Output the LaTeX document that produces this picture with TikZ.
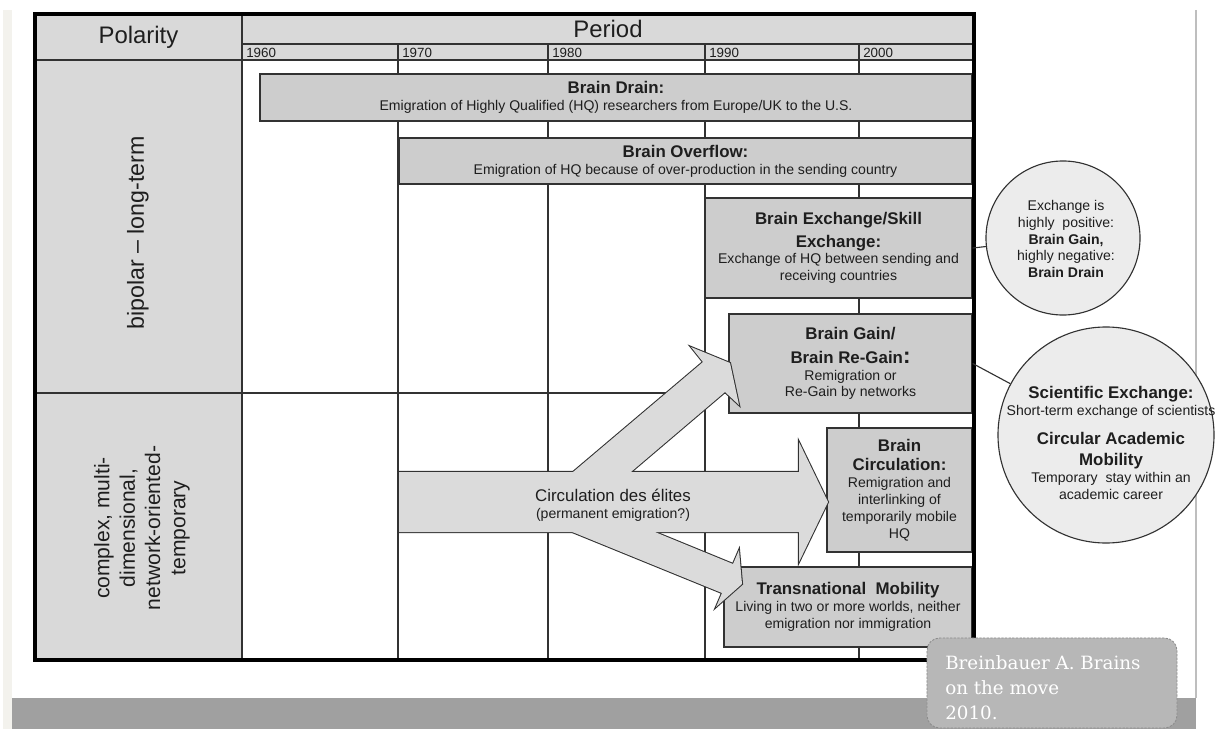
\documentclass[tikz,border=0pt]{standalone}
\usepackage{fontspec}
\setsansfont{Liberation Sans}
\newfontfamily\srcfont{DejaVu Serif}
\definecolor{hdgray}{RGB}{217,217,217}
\definecolor{boxgray}{RGB}{205,205,205}
\definecolor{arrgray}{RGB}{219,219,219}
\definecolor{circgray}{RGB}{236,236,236}
\definecolor{linegray}{RGB}{50,50,50}
\definecolor{inkgray}{RGB}{30,30,30}
\definecolor{notegray}{RGB}{183,183,183}
\definecolor{bandgray}{RGB}{160,160,160}
\definecolor{stripbeige}{RGB}{243,242,237}
\definecolor{pagegray}{RGB}{190,190,190}
\newcommand\ttl{\fontsize{12}{14}\selectfont\bfseries}
\newcommand\txt{\fontsize{10}{12}\selectfont}
\tikzset{
  hqbox/.style    = {draw=linegray, line width=0.9pt, fill=boxgray, align=center,
                     text=inkgray, font=\sffamily\txt, inner sep=2pt},
  note/.style     = {circle, draw=linegray, line width=0.8pt, fill=circgray, inner sep=0pt},
  notetext/.style = {align=center, text=inkgray, font=\sffamily\txt, inner sep=0pt},
  gridline/.style = {draw=linegray, line width=0.9pt},
  tframe/.style   = {draw=black, line width=2.9pt},
  hdr/.style      = {font=\sffamily\fontsize{17}{20}\selectfont, text=inkgray, inner sep=0pt},
  yr/.style       = {font=\sffamily\fontsize{9.5}{11}\selectfont, text=inkgray,
                     anchor=west, inner sep=0pt},
  side/.style     = {rotate=90, align=center, text=inkgray, inner sep=0pt},
  % block arrows: thick outline first, fill on top, so only the outer edge stays
  flowline/.style = {draw=linegray, line width=1.5pt, line join=miter},
  flow/.style     = {fill=arrgray},
  link/.style     = {draw=linegray, line width=0.8pt},
  src/.style      = {rounded corners=9pt, fill=notegray, draw=gray!90,
                     dash pattern=on 1.6pt off 1pt, line width=0.6pt,
                     minimum width=6.25cm, minimum height=2.25cm},
  srctext/.style  = {font=\srcfont\fontsize{13}{18}\selectfont, text=white,
                     align=left, anchor=north west, inner sep=0pt},
}
\begin{document}
\begin{tikzpicture}[x=0.025cm, y=-0.025cm]
  \useasboundingbox (0,0) rectangle (1218,729);

  % page around the table
  \fill[stripbeige] (3,10) rectangle (12,729);
  \fill[bandgray] (12,698) rectangle (1196,729);
  \draw[pagegray, line width=0.8pt] (1196,10) -- (1196,698);

  % table background and grid
  \fill[hdgray] (35,14) rectangle (242,660);
  \fill[hdgray] (242,14) rectangle (974,60);
  \draw[gridline] (242,14) -- (242,660);
  \draw[gridline] (398,44) -- (398,660);
  \draw[gridline] (548,44) -- (548,660);
  \draw[gridline] (705,44) -- (705,660);
  \draw[gridline] (859,44) -- (859,660);
  \draw[gridline] (242,44) -- (974,44);
  \draw[gridline] (35,60) -- (974,60);
  \draw[gridline] (35,393) -- (974,393);

  \node[hdr] (pol) at (138.5,37) {Polarity};
  \node[hdr] (per) at (608,29) {Period};
  \node[yr] (y1960) at (246,53) {1960};
  \node[yr] (y1970) at (402,53) {1970};
  \node[yr] (y1980) at (552,53) {1980};
  \node[yr] (y1990) at (709,53) {1990};
  \node[yr] (y2000) at (863,53) {2000};

  \node[side, font=\sffamily\fontsize{16.5}{20}\selectfont] (bip) at (138,233)
       {bipolar -- long-term};
  \node[side, font=\sffamily\fontsize{15}{18}\selectfont] (cplx) at (142,528)
       {complex, multi-\\dimensional,\\network-oriented-\\temporary};

  % concept boxes
  \node[hqbox, minimum width=17.8cm, minimum height=1.175cm] (drain) at (616,97.5)
       {{\ttl Brain Drain:}\\Emigration of Highly Qualified (HQ) researchers from Europe/UK to the U.S.};
  \node[hqbox, minimum width=14.325cm, minimum height=1.15cm] (overflow) at (685.5,161)
       {{\ttl Brain Overflow:}\\Emigration of HQ because of over-production in the sending country};
  \node[hqbox, minimum width=6.675cm, minimum height=2.5cm] (exch) at (838.5,248)
       {{\ttl Brain Exchange/Skill}\\[4pt]{\ttl Exchange:}\\Exchange of HQ between sending and\\receiving countries};
  \node[hqbox, minimum width=6.075cm, minimum height=2.475cm] (gain) at (850.5,363.5)
       {{\ttl Brain Gain/}\\[5pt]{\ttl Brain Re-Gain{\fontsize{16}{16}\selectfont:}}\\Remigration or\\Re-Gain by networks};
  \node[hqbox, minimum width=3.625cm, minimum height=3.1cm] (circ) at (899.5,490)
       {{\ttl Brain}\\[2pt]{\ttl Circulation:}\\Remigration and\\interlinking of\\temporarily mobile\\HQ};
  \node[hqbox, minimum width=6.2cm, minimum height=2cm] (trans) at (848,607)
       {{\ttl Transnational~~Mobility}\\Living in two or more worlds, neither\\emigration nor immigration};

  % block arrows
  \coordinate (e1) at (399,472);  \coordinate (e2) at (799,472);
  \coordinate (e3) at (799,442);  \coordinate (e4) at (828,502);
  \coordinate (e5) at (799,562);  \coordinate (e6) at (799,532);
  \coordinate (e7) at (399,532);
  \coordinate (u1) at (540,500);  \coordinate (u2) at (703,362);
  \coordinate (u3) at (691,347);  \coordinate (u4) at (730,363);
  \coordinate (u5) at (739,405);  \coordinate (u6) at (725,392);
  \coordinate (u7) at (598,500);
  \coordinate (d1) at (589,505);  \coordinate (d2) at (733,564);
  \coordinate (d3) at (739,550);  \coordinate (d4) at (742,584);
  \coordinate (d5) at (716,607);  \coordinate (d6) at (722,593);
  \coordinate (d7) at (506,505);

  \draw[flowline] (e1) -- (e2) -- (e3) -- (e4) -- (e5) -- (e6) -- (e7) -- cycle;
  \draw[flowline] (u1) -- (u2) -- (u3) -- (u4) -- (u5) -- (u6) -- (u7) -- cycle;
  \draw[flowline] (d1) -- (d2) -- (d3) -- (d4) -- (d5) -- (d6) -- (d7) -- cycle;
  \fill[flow] (e1) -- (e2) -- (e3) -- (e4) -- (e5) -- (e6) -- (e7) -- cycle;
  \fill[flow] (u1) -- (u2) -- (u3) -- (u4) -- (u5) -- (u6) -- (u7) -- cycle;
  \fill[flow] (d1) -- (d2) -- (d3) -- (d4) -- (d5) -- (d6) -- (d7) -- cycle;

  \node[notetext] (elite) at (613,505)
       {{\fontsize{12}{14}\selectfont Circulation des élites}\\(permanent emigration?)};

  \draw[tframe] (35,14) rectangle (974,660);

  % remarks in circles
  \node[note, minimum size=3.85cm] (note1) at (1063,238) {};
  \node[notetext] (note1txt) at (1066,239)
       {Exchange is\\highly~ positive:\\{\bfseries Brain Gain,}\\highly negative:\\{\bfseries Brain Drain}};
  \node[note, minimum size=5.4cm] (note2) at (1106,435) {};
  \node[notetext] (note2txt) at (1111,443)
       {{\ttl Scientific Exchange:}\\Short-term exchange of scientists\\[9pt]{\ttl Circular Academic}\\[3pt]{\ttl Mobility}\\Temporary~ stay within an\\academic career};
  \draw[link] (exch.east) -- (note1);
  \draw[link] (gain.east) -- (note2);

  % source
  \node[src] (src) at (1052,683) {};
  \node[srctext] (srctxt) at (945,655) {Breinbauer A. Brains\\on the move\\2010.};
\end{tikzpicture}
\end{document}
